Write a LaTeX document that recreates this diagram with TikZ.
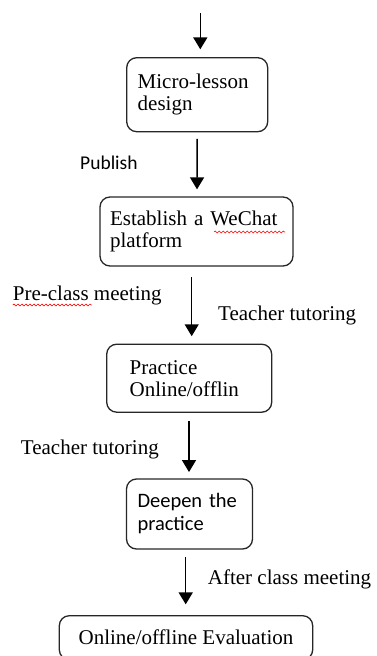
\documentclass[tikz,border=0pt]{standalone}
\usepackage{fontspec}
\setmainfont{Liberation Serif}
\newfontfamily\calib{Carlito}
\usetikzlibrary{arrows.meta,decorations.pathmorphing}
\begin{document}
\begin{tikzpicture}[x=1pt,y=1pt,
  box/.style={draw=black!85,line width=1.3pt,rounded corners=10pt,inner xsep=11pt,inner ysep=0pt,align=left,font=\fontsize{21}{22}\selectfont},
  lbl/.style={anchor=base west,inner sep=0pt,font=\fontsize{21}{22}\selectfont},
  arr/.style={line width=1.5pt,-{Triangle[width=14pt,length=12pt]}},
  wavy/.style={red,line width=0.6pt,decorate,decoration={snake,segment length=4pt,amplitude=0.9pt}}]
\useasboundingbox (0,0) rectangle (377,-656);
\clip (0,0) rectangle (377,-656);
\node[box,text width=119pt,minimum height=74pt] (b1) at (197.2,-94.7) {Micro-lesson\\design};
\node[box,inner xsep=10pt,text width=173pt,minimum height=69pt] (b2) at (196.5,-231.5) {Establish a WeChat\\platform};
\node[box,inner xsep=23pt,text width=119pt,minimum height=68pt] (b3) at (189.2,-378.2) {Practice\\Online/offlin};
\node[box,text width=104pt,minimum height=70pt,font=\calib\fontsize{20.5}{23}\selectfont] (b4) at (189.5,-514) {Deepen the\\practice};
\node[box,inner xsep=0pt,minimum width=253.4pt,minimum height=44pt,align=center] (b5) at (186,-637.7) {Online/offline Evaluation};
\coordinate (top) at (200.3,-13.3);
\draw[arr] (top) -- ([xshift=3.1pt,yshift=7.7pt]b1.north);
\draw[arr] ([yshift=-6.6pt]b1.south) -- ([xshift=0.5pt,yshift=7pt]b2.north);
\draw[arr] ([xshift=-4.8pt,yshift=-10.7pt]b2.south) -- ([xshift=2.5pt,yshift=7.3pt]b3.north);
\draw[arr] ([xshift=-0.2pt,yshift=-8.4pt]b3.south) -- ([xshift=-0.5pt,yshift=6.3pt]b4.north);
\draw[arr] ([xshift=-3.8pt,yshift=-7.7pt]b4.south) -- ([xshift=-0.3pt,yshift=10.7pt]b5.north);
\node[lbl,font=\calib\fontsize{19.5}{22}\selectfont] (publish) at (80,-169) {Publish};
\node[lbl] (pre) at (12.7,-300) {Pre-class meeting};
\node[lbl] (tt1) at (218,-320.7) {Teacher tutoring};
\node[lbl] (tt2) at (20.7,-454.3) {Teacher tutoring};
\node[lbl] (after) at (207.7,-584.3) {After class meeting};
\draw[wavy] (214,-232) -- (285,-232);
\draw[wavy] (12.7,-305) -- (91.7,-305);
\end{tikzpicture}
\end{document}
